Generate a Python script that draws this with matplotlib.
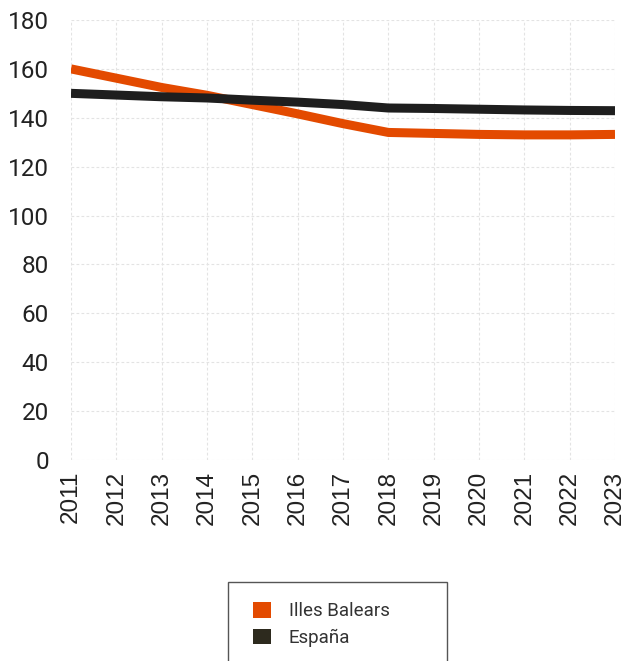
import matplotlib
matplotlib.use("Agg")
import matplotlib.pyplot as plt
from matplotlib.patches import Patch, Rectangle

years = [2011, 2012, 2013, 2014, 2015, 2016, 2017, 2018, 2019, 2020, 2021, 2022, 2023]
illes_balears = [160, 156.2, 152.4, 149.2, 145.4, 141.6, 137.6, 134.0, 133.6, 133.2, 133.0, 133.0, 133.2]
espana = [150, 149.3, 148.6, 148.1, 147.2, 146.4, 145.4, 144.0, 143.8, 143.5, 143.2, 143.0, 142.9]
y_ticks = [0, 20, 40, 60, 80, 100, 120, 140, 160, 180]
series_names = ["Illes Balears", "España"]

plt.rcParams['font.family'] = ['Roboto', 'DejaVu Sans']

W, H = 628, 661
fig = plt.figure(figsize=(W / 100, H / 100), dpi=100)
ax = fig.add_axes([71 / W, 1 - 460 / H, (615 - 71) / W, (460 - 20) / H])

orange = '#E34A00'
black = '#1E1E1E'
ax.plot(years, illes_balears, color=orange, lw=6.5, solid_capstyle='butt', zorder=3)
ax.plot(years, espana, color=black, lw=6.5, solid_capstyle='butt', zorder=4)

ax.set_xlim(years[0], years[-1])
ax.set_ylim(0, 180)
ax.set_xticks(years)
ax.set_xticklabels([str(y) for y in years], rotation=90, fontsize=17.5,
                   color='#222222', family=['Liberation Sans', 'DejaVu Sans'])
ax.set_yticks(y_ticks)
ax.set_yticklabels([str(v) for v in y_ticks], fontsize=17.5, color='#222222')
ax.tick_params(axis='x', length=0, pad=8)
ax.tick_params(axis='y', length=0, pad=16)
ax.grid(True, color='#E3E3E3', linestyle=(0, (2.5, 2)), linewidth=0.8)
ax.set_axisbelow(True)
for s in ax.spines.values():
    s.set_visible(False)

# legend frame
fig.patches.append(Rectangle((228 / W, -0.05), (447 - 228) / W, (1 - 582 / H) + 0.05,
                             transform=fig.transFigure, fill=False,
                             edgecolor='#555555', lw=1.0))
handles = [Patch(facecolor=orange, edgecolor='none'),
           Patch(facecolor='#2D2A1E', edgecolor='none')]
leg = fig.legend(handles, series_names, loc='upper left',
                 bbox_to_anchor=(253 / W, 1 - 602 / H), frameon=False,
                 fontsize=13.5, handlelength=0.95, handleheight=0.9,
                 handletextpad=0.95, labelspacing=0.45, borderpad=0, borderaxespad=0)
for t in leg.get_texts():
    t.set_color('#333333')

fig.savefig('out.png', dpi=100)
